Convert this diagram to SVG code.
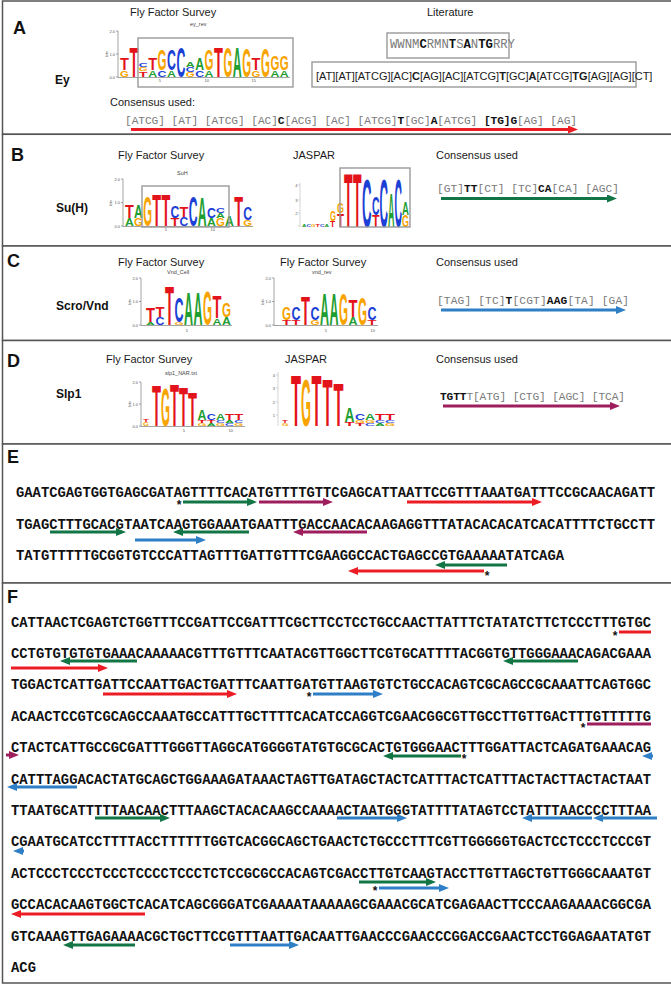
<svg xmlns="http://www.w3.org/2000/svg" width="671" height="984" viewBox="0 0 671 984">
<style>
.pan{fill:#fff;stroke:#555;stroke-width:1.5}
.box{fill:none;stroke:#9a9a9a;stroke-width:1.4}
.h{font:11px 'Liberation Sans',Arial,sans-serif;fill:#1a1a1a}
.lab{font:bold 18px 'Liberation Sans',Arial,sans-serif;fill:#111}
.tf{font:bold 12px 'Liberation Sans',Arial,sans-serif;fill:#111}
.cs{font:11.2px 'Liberation Mono','Courier New',monospace;fill:#7a7a7a}
.cs2{font:12.3px 'Liberation Mono','Courier New',monospace;fill:#7a7a7a}
.b{font-weight:bold;fill:#111}
.ar11{font:11px 'Liberation Sans',Arial,sans-serif;fill:#1a1a1a}
.sq{font:bold 13.85px 'Liberation Mono','Courier New',monospace;fill:#111}
.st{font:bold 12px 'Liberation Sans',Arial,sans-serif;fill:#111;text-anchor:middle}
.tiny{font:5.5px 'Liberation Sans',Arial,sans-serif;fill:#444}
.ax{font:4px 'Liberation Sans',Arial,sans-serif;fill:#555;text-anchor:end}
.axl{stroke:#666;stroke-width:.6;fill:none}
.lg{font:bold 14px 'Liberation Sans',Arial,sans-serif}
.A{fill:#1f9e32}.C{fill:#1c3fd6}.G{fill:#f7a400}.T{fill:#e3131b}
.ar{fill:none;stroke-width:3}
.r{stroke:#ec1c24}.g{stroke:#127545}.bl{stroke:#2e7fc6}.m{stroke:#9e1d5d}
</style>
<defs>
<marker id="mr" viewBox="0 0 10 8" refX="4" refY="4" markerWidth="10" markerHeight="8" markerUnits="userSpaceOnUse" orient="auto"><path d="M0,0L10,4L0,8z" fill="#ec1c24"/></marker>
<marker id="mg" viewBox="0 0 10 8" refX="4" refY="4" markerWidth="10" markerHeight="8" markerUnits="userSpaceOnUse" orient="auto"><path d="M0,0L10,4L0,8z" fill="#127545"/></marker>
<marker id="mb" viewBox="0 0 10 8" refX="4" refY="4" markerWidth="10" markerHeight="8" markerUnits="userSpaceOnUse" orient="auto"><path d="M0,0L10,4L0,8z" fill="#2e7fc6"/></marker>
<marker id="mm" viewBox="0 0 10 8" refX="4" refY="4" markerWidth="10" markerHeight="8" markerUnits="userSpaceOnUse" orient="auto"><path d="M0,0L10,4L0,8z" fill="#9e1d5d"/></marker>
</defs>
<rect width="671" height="984" fill="#fff"/>

<!-- Panel A -->
<g id="panelA">
<rect class="pan" x="2.5" y="1" width="670" height="133.3"/>
<text class="lab" x="13" y="34">A</text>
<text class="h" x="130" y="16">Fly Factor Survey</text>
<text class="tiny" x="190" y="26">ey_rev</text>
<text class="h" x="427" y="16">Literature</text>
<text class="tf" x="55" y="84">Ey</text>
<g id="logoA">
<path class="axl" d="M118,31V77.5H290M116,31H118M116,54H118M116,77H118"/>
<text class="ax" x="115" y="32.5">2.0</text><text class="ax" x="115" y="55.5">1.0</text><text class="ax" x="115" y="78.5">0.0</text>
<text class="ax" transform="translate(108 54) rotate(-90)" style="text-anchor:middle">bits</text>
<text class="ax" x="161" y="82">5</text><text class="ax" x="209" y="82">10</text><text class="ax" x="256" y="82">15</text>
<text class="lg G" transform="translate(120 77) scale(.82 .67)">G</text><text class="lg T" transform="translate(120 70.3) scale(1.04 1.23)">T</text>
<text class="lg T" transform="translate(129.4 77) scale(1.04 3.07)">T</text>
<text class="lg T" transform="translate(138.8 77) scale(1.04 .57)">T</text><text class="lg G" transform="translate(138.8 71.3) scale(.82 .4)">G</text><text class="lg C" transform="translate(138.8 67.3) scale(.88 .43)">C</text>
<text class="lg A" transform="translate(148.2 77) scale(.88 .67)">A</text><text class="lg T" transform="translate(148.2 70.3) scale(1.04 1.23)">T</text>
<text class="lg C" transform="translate(157.6 77) scale(.88 .67)">C</text><text class="lg G" transform="translate(157.6 70.3) scale(.82 2.17)">G</text>
<text class="lg A" transform="translate(167 77) scale(.88 .67)">A</text><text class="lg C" transform="translate(167 70.3) scale(.88 2.07)">C</text>
<text class="lg C" transform="translate(176.4 77) scale(.88 3.07)">C</text>
<text class="lg G" transform="translate(185.8 77) scale(.82 .5)">G</text><text class="lg C" transform="translate(185.8 72) scale(.88 .5)">C</text><text class="lg A" transform="translate(185.8 67) scale(.88 .5)">A</text>
<text class="lg C" transform="translate(195.2 77) scale(.88 .67)">C</text><text class="lg A" transform="translate(195.2 70.3) scale(.88 1.23)">A</text>
<text class="lg A" transform="translate(204.6 77) scale(.88 .67)">A</text><text class="lg G" transform="translate(204.6 70.3) scale(.82 2.07)">G</text>
<text class="lg T" transform="translate(214 77) scale(1.04 3.07)">T</text>
<text class="lg G" transform="translate(223.4 77) scale(.82 3)">G</text>
<text class="lg A" transform="translate(232.8 77) scale(.88 3)">A</text>
<text class="lg G" transform="translate(242.2 77) scale(.82 2.9)">G</text>
<text class="lg G" transform="translate(251.6 77) scale(.82 .67)">G</text><text class="lg T" transform="translate(251.6 70.3) scale(1.04 1.23)">T</text>
<text class="lg G" transform="translate(261 77) scale(.82 2.9)">G</text>
<text class="lg A" transform="translate(270.4 77) scale(.88 .67)">A</text><text class="lg G" transform="translate(270.4 70.3) scale(.82 1.4)">G</text>
<text class="lg A" transform="translate(279.8 77) scale(.88 .67)">A</text><text class="lg G" transform="translate(279.8 70.3) scale(.82 1.4)">G</text>
<rect class="box" x="138" y="38" width="155" height="49"/>
</g>
<rect class="box" x="387" y="33" width="122" height="25"/>
<text class="cs2" x="390" y="48" textLength="125">WWNM<tspan class="b">C</tspan>RMN<tspan class="b">T</tspan>S<tspan class="b">A</tspan>N<tspan class="b">TG</tspan>RRY</text>
<rect class="box" x="312" y="62" width="324" height="25"/>
<text class="ar11" x="316" y="80">[AT][AT][ATCG][AC]<tspan font-weight="bold">C</tspan>[AG][AC][ATCG]<tspan font-weight="bold">T</tspan>[GC]<tspan font-weight="bold">A</tspan>[ATCG]<tspan font-weight="bold">TG</tspan>[AG][AG][CT]</text>
<text class="h" x="110" y="106">Consensus used:</text>
<text class="cs" x="125" y="124" textLength="452">[ATCG] [AT] [ATCG] [AC]<tspan class="b">C</tspan>[ACG] [AC] [ATCG]<tspan class="b">T</tspan>[GC]<tspan class="b">A</tspan>[ATCG] <tspan class="b">[TG]G</tspan>[AG] [AG]</text>
</g>

<!-- Panel B -->
<g id="panelB">
<rect class="pan" x="2.5" y="134.3" width="670" height="111.7"/>
<text class="lab" x="11" y="161">B</text>
<text class="h" x="118" y="159">Fly Factor Survey</text>
<text class="h" x="293" y="159">JASPAR</text>
<text class="h" x="436" y="159">Consensus used</text>
<text class="tiny" x="177" y="175">SuH</text>
<text class="tf" x="56" y="212">Su(H)</text>
<g id="logoB1">
<path class="axl" d="M123,179V226.5H253M121,179H123M121,202.5H123M121,226H123"/>
<text class="ax" x="120" y="180.5">2.0</text><text class="ax" x="120" y="204">1.0</text><text class="ax" x="120" y="227.5">0.0</text>
<text class="ax" transform="translate(112 203) rotate(-90)" style="text-anchor:middle">bits</text>
<text class="ax" x="167" y="231">5</text><text class="ax" x="215" y="231">10</text>
<text class="lg A" transform="translate(125 226) scale(.87 .77)">A</text><text class="lg T" transform="translate(125 218.3) scale(1.03 1.33)">T</text>
<text class="lg G" transform="translate(134.1 226) scale(.81 .77)">G</text><text class="lg A" transform="translate(134.1 218.3) scale(.87 1.33)">A</text>
<text class="lg G" transform="translate(143.2 226) scale(.81 3.1)">G</text>
<text class="lg T" transform="translate(152.3 226) scale(1.03 3.17)">T</text>
<text class="lg T" transform="translate(161.4 226) scale(1.03 3.17)">T</text>
<text class="lg T" transform="translate(170.5 226) scale(1.03 .77)">T</text><text class="lg C" transform="translate(170.5 218.3) scale(.87 1.17)">C</text>
<text class="lg C" transform="translate(179.6 226) scale(.87 .93)">C</text><text class="lg T" transform="translate(179.6 216.7) scale(1.03 1)">T</text>
<text class="lg C" transform="translate(188.7 226) scale(.87 3)">C</text>
<text class="lg A" transform="translate(197.8 226) scale(.87 2.93)">A</text>
<text class="lg A" transform="translate(206.9 226) scale(.87 .77)">A</text><text class="lg C" transform="translate(206.9 218.3) scale(.87 1)">C</text>
<text class="lg G" transform="translate(216 226) scale(.81 .77)">G</text><text class="lg A" transform="translate(216 218.3) scale(.87 .5)">A</text><text class="lg C" transform="translate(216 213.3) scale(.87 .5)">C</text>
<text class="lg A" transform="translate(225.1 226) scale(.87 1.1)">A</text>
<text class="lg T" transform="translate(234.2 226) scale(1.03 3.03)">T</text>
<text class="lg G" transform="translate(243.3 226) scale(.81 .6)">G</text><text class="lg C" transform="translate(243.3 220) scale(.87 1.33)">C</text>
<rect class="box" x="142" y="186" width="87" height="41"/>
</g>
<g id="logoB2">
<path class="axl" d="M300,183V227M298,185H300M298,200H300M298,213H300M298,226H300" style="stroke:#bbb"/>
<text class="ax" x="297.5" y="186.5">4</text><text class="ax" x="297.5" y="201.5">3</text><text class="ax" x="297.5" y="214.5">2</text>
<text class="lg A" transform="translate(302 226.5) scale(.45 .3)">A</text><text class="lg C" transform="translate(306.5 226.5) scale(.45 .2)">C</text><text class="lg G" transform="translate(311 226.5) scale(.41 .2)">G</text><text class="lg T" transform="translate(315.5 226.5) scale(.53 .2)">T</text><text class="lg C" transform="translate(320 226.5) scale(.45 .2)">C</text><text class="lg A" transform="translate(324.5 226.5) scale(.45 .25)">A</text>
<text class="lg T" transform="translate(330 226.5) scale(.6 .6)">T</text><text class="lg G" transform="translate(330 220.5) scale(.55 1)">G</text>
<text class="lg T" transform="translate(337 226.5) scale(.82 1.35)">T</text><text class="lg G" transform="translate(337 213) scale(.64 1)">G</text>
<text class="lg T" transform="translate(344 226.5) scale(1 5.45)">T</text>
<text class="lg T" transform="translate(353 226.5) scale(1 5.45)">T</text>
<text class="lg C" transform="translate(362 226.5) scale(.94 4.85)">C</text>
<text class="lg T" transform="translate(372 226.5) scale(.88 1.15)">T</text><text class="lg C" transform="translate(372 215) scale(.74 1.8)">C</text>
<text class="lg C" transform="translate(379.5 226.5) scale(.84 4.85)">C</text>
<text class="lg A" transform="translate(388 226.5) scale(.64 3.5)">A</text>
<text class="lg C" transform="translate(394.5 226.5) scale(.74 4.85)">C</text>
<text class="lg G" transform="translate(402 226.5) scale(.64 1.15)">G</text><text class="lg A" transform="translate(402 215) scale(.69 1.3)">A</text>
<rect class="box" x="340" y="168" width="70" height="59"/>
</g>
<text class="cs" x="437" y="192" textLength="182">[GT]<tspan class="b">TT</tspan>[CT] [TC]<tspan class="b">CA</tspan>[CA] [AGC]</text>
</g>

<!-- Panel C -->
<g id="panelC">
<rect class="pan" x="2.5" y="246" width="670" height="94.5"/>
<text class="lab" x="7" y="267">C</text>
<text class="h" x="118" y="266">Fly Factor Survey</text>
<text class="h" x="280" y="266">Fly Factor Survey</text>
<text class="h" x="436" y="266">Consensus used</text>
<text class="tiny" x="167" y="274">Vnd_Cell</text>
<text class="tiny" x="312" y="274">vnd_rev</text>
<text class="tf" x="56" y="310">Scro/Vnd</text>
<g id="logoC1">
<path class="axl" d="M141,278V325.5H232M139,278H141M139,301.5H141M139,325H141"/>
<text class="ax" x="138" y="279.5">2.0</text><text class="ax" x="138" y="303">1.0</text><text class="ax" x="138" y="326.5">0.0</text>
<text class="ax" transform="translate(131 302) rotate(-90)" style="text-anchor:middle">bits</text>
<text class="ax" x="188" y="332">5</text>
<text class="lg A" transform="translate(146 325) scale(.89 .3)">A</text><text class="lg T" transform="translate(146 322) scale(1.05 1.5)">T</text>
<text class="lg C" transform="translate(155.5 325) scale(.89 .8)">C</text><text class="lg T" transform="translate(155.5 317) scale(1.05 1)">T</text>
<text class="lg T" transform="translate(165 325) scale(1.05 4)">T</text>
<text class="lg G" transform="translate(174.5 325) scale(.83 .3)">G</text><text class="lg C" transform="translate(174.5 322) scale(.89 2.5)">C</text>
<text class="lg A" transform="translate(184 325) scale(.89 3.3)">A</text>
<text class="lg A" transform="translate(193.5 325) scale(.89 3.3)">A</text>
<text class="lg G" transform="translate(203 325) scale(.83 3.5)">G</text>
<text class="lg A" transform="translate(212.5 325) scale(.89 .7)">A</text><text class="lg T" transform="translate(212.5 318) scale(1.05 2.3)">T</text>
<text class="lg A" transform="translate(222 325) scale(.89 .8)">A</text><text class="lg G" transform="translate(222 317) scale(.83 1.4)">G</text>
</g>
<g id="logoC2">
<path class="axl" d="M274,278V325.5H378M272,278H274M272,301.5H274M272,325H274"/>
<text class="ax" x="271" y="279.5">2.0</text><text class="ax" x="271" y="303">1.0</text><text class="ax" x="271" y="326.5">0.0</text>
<text class="ax" transform="translate(264 302) rotate(-90)" style="text-anchor:middle">bits</text>
<text class="ax" x="327" y="332">5</text><text class="ax" x="375" y="332">10</text>
<text class="lg T" transform="translate(282 325) scale(1.05 .5)">T</text><text class="lg G" transform="translate(282 320) scale(.83 1.3)">G</text>
<text class="lg T" transform="translate(291.5 325) scale(1.05 .5)">T</text><text class="lg C" transform="translate(291.5 320) scale(.89 1.3)">C</text>
<text class="lg T" transform="translate(301 325) scale(1.05 2.9)">T</text>
<text class="lg G" transform="translate(310.5 325) scale(.83 .5)">G</text><text class="lg C" transform="translate(310.5 320) scale(.89 1.3)">C</text>
<text class="lg A" transform="translate(320 325) scale(.89 3.2)">A</text>
<text class="lg A" transform="translate(329.5 325) scale(.89 3.2)">A</text>
<text class="lg G" transform="translate(339 325) scale(.83 3.2)">G</text>
<text class="lg A" transform="translate(348.5 325) scale(.89 .8)">A</text><text class="lg T" transform="translate(348.5 317) scale(1.05 1.7)">T</text>
<text class="lg G" transform="translate(358 325) scale(.83 2.8)">G</text>
<text class="lg T" transform="translate(367.5 325) scale(1.05 .5)">T</text><text class="lg C" transform="translate(367.5 320) scale(.89 1.3)">C</text>
</g>
<text class="cs" x="437" y="304" textLength="192">[TAG] [TC]<tspan class="b">T</tspan>[CGT]<tspan class="b">AAG</tspan>[TA] [GA]</text>
</g>

<!-- Panel D -->
<g id="panelD">
<rect class="pan" x="2.5" y="340.5" width="670" height="103.5"/>
<text class="lab" x="7" y="367">D</text>
<text class="h" x="106" y="363">Fly Factor Survey</text>
<text class="h" x="285" y="363">JASPAR</text>
<text class="h" x="436" y="363">Consensus used</text>
<text class="tiny" x="165" y="375">slp1_NAR.txt</text>
<text class="tf" x="56" y="398">Slp1</text>
<g id="logoD1">
<path class="axl" d="M141,382V426.5H245M139,382H141M139,404H141M139,426H141"/>
<text class="ax" x="138" y="383.5">2.0</text><text class="ax" x="138" y="405.5">1.0</text><text class="ax" x="138" y="427.5">0.0</text>
<text class="ax" transform="translate(131 404) rotate(-90)" style="text-anchor:middle">bits</text>
<text class="ax" x="185" y="432">5</text><text class="ax" x="233" y="432">10</text>
<text class="lg G" transform="translate(143 426) scale(.55 .4)">G</text><text class="lg T" transform="translate(143 422) scale(.7 .2)">T</text>
<text class="lg T" transform="translate(152 426) scale(1.05 4.1)">T</text>
<text class="lg G" transform="translate(161 426) scale(.83 3.8)">G</text>
<text class="lg T" transform="translate(170 426) scale(1.05 4.2)">T</text>
<text class="lg T" transform="translate(179 426) scale(1.05 3.9)">T</text>
<text class="lg T" transform="translate(188 426) scale(1.05 3.5)">T</text>
<text class="lg G" transform="translate(197.5 426) scale(.83 .3)">G</text><text class="lg T" transform="translate(197.5 423) scale(1.05 .3)">T</text><text class="lg A" transform="translate(197.5 420) scale(.89 1)">A</text>
<text class="lg A" transform="translate(206.7 426) scale(.89 .3)">A</text><text class="lg T" transform="translate(206.7 423) scale(1.05 .3)">T</text><text class="lg C" transform="translate(206.7 420) scale(.89 .6)">C</text>
<text class="lg G" transform="translate(215.9 426) scale(.83 .3)">G</text><text class="lg C" transform="translate(215.9 423) scale(.89 .3)">C</text><text class="lg A" transform="translate(215.9 420) scale(.89 .6)">A</text>
<text class="lg C" transform="translate(225.1 426) scale(.89 .3)">C</text><text class="lg A" transform="translate(225.1 423) scale(.89 .3)">A</text><text class="lg T" transform="translate(225.1 420) scale(1.05 .7)">T</text>
<text class="lg G" transform="translate(234.3 426) scale(.83 .3)">G</text><text class="lg C" transform="translate(234.3 423) scale(.89 .3)">C</text><text class="lg T" transform="translate(234.3 420) scale(1.05 .7)">T</text>
</g>
<g id="logoD2">
<path class="axl" d="M278,372V426M276,375H278M276,388H278M276,402H278M276,415H278" style="stroke:#bbb"/>
<text class="ax" x="275" y="376.5">4</text><text class="ax" x="275" y="389.5">3</text><text class="ax" x="275" y="403.5">2</text><text class="ax" x="275" y="416.5">1</text>
<text class="lg G" transform="translate(282 426) scale(.6 .3)">G</text><text class="lg T" transform="translate(282 423) scale(.7 .3)">T</text>
<text class="lg T" transform="translate(291 426) scale(1.17 5.1)">T</text>
<text class="lg G" transform="translate(301 426) scale(.92 4.8)">G</text>
<text class="lg T" transform="translate(311.5 426) scale(1.17 5.1)">T</text>
<text class="lg T" transform="translate(322.5 426) scale(1.17 4.7)">T</text>
<text class="lg T" transform="translate(333.5 426) scale(1.17 4.4)">T</text>
<text class="lg T" transform="translate(344.5 426) scale(1.17 .4)">T</text><text class="lg A" transform="translate(344.5 422) scale(.99 1.4)">A</text>
<text class="lg T" transform="translate(355 426) scale(1.17 .3)">T</text><text class="lg G" transform="translate(355 423) scale(.92 .3)">G</text><text class="lg C" transform="translate(355 420) scale(.99 .6)">C</text>
<text class="lg C" transform="translate(365 426) scale(.99 .3)">C</text><text class="lg G" transform="translate(365 423) scale(.92 .3)">G</text><text class="lg A" transform="translate(365 420) scale(.99 .6)">A</text>
<text class="lg A" transform="translate(375 426) scale(.99 .3)">A</text><text class="lg C" transform="translate(375 423) scale(.99 .3)">C</text><text class="lg T" transform="translate(375 420) scale(1.17 .7)">T</text>
<text class="lg G" transform="translate(385 426) scale(.92 .3)">G</text><text class="lg C" transform="translate(385 423) scale(.99 .3)">C</text><text class="lg T" transform="translate(385 420) scale(1.17 .7)">T</text>
</g>
<text class="cs" x="440" y="400" textLength="185"><tspan class="b">TGTT</tspan>T[ATG] [CTG] [AGC] [TCA]</text>
</g>

<!-- Panel E -->
<g id="panelE">
<rect class="pan" x="2.5" y="444" width="670" height="139"/>
<text class="lab" x="7" y="463">E</text>
<text class="sq" x="16" y="497" textLength="639" lengthAdjust="spacing">GAATCGAGTGGTGAGCGATAGTTTTCACATGTTTTGTTCGAGCATTAATTCCGTTTAAATGATTTCCGCAACAGATT</text>
<text class="sq" x="16" y="528.5" textLength="639" lengthAdjust="spacing">TGAGCTTTGCACGTAATCAAGTGGAAATGAATTTGACCAACACAAGAGGTTTATACACACATCACATTTTCTGCCTT</text>
<text class="sq" x="16" y="560" textLength="548" lengthAdjust="spacing">TATGTTTTTGCGGTGTCCCATTAGTTTGATTGTTTCGAAGGCCACTGAGCCGTGAAAAATATCAGA</text>
<text class="st" x="179" y="509">*</text>
<text class="st" x="487" y="580">*</text>
</g>

<!-- Panel F -->
<g id="panelF">
<rect class="pan" x="2.5" y="583" width="670" height="400"/>
<text class="lab" x="7" y="603">F</text>
<text class="sq" x="11" y="626.5" textLength="640" lengthAdjust="spacing">CATTAACTCGAGTCTGGTTTCCGATTCCGATTTCGCTTCCTCCTGCCAACTTATTTCTATATCTTCTCCCTTTGTGC</text>
<text class="sq" x="11" y="657.9" textLength="640" lengthAdjust="spacing">CCTGTGTGTGTGAAACAAAAACGTTTGTTTCAATACGTTGGCTTCGTGCATTTTACGGTGTTGGGAAACAGACGAAA</text>
<text class="sq" x="11" y="689.3" textLength="640" lengthAdjust="spacing">TGGACTCATTGATTCCAATTGACTGATTTCAATTGATGTTAAGTGTCTGCCACAGTCGCAGCCGCAAATTCAGTGGC</text>
<text class="sq" x="11" y="720.7" textLength="640" lengthAdjust="spacing">ACAACTCCGTCGCAGCCAAATGCCATTTGCTTTTCACATCCAGGTCGAACGGCGTTGCCTTGTTGACTTTGTTTTTG</text>
<text class="sq" x="11" y="752.1" textLength="640" lengthAdjust="spacing">CTACTCATTGCCGCGATTTGGGTTAGGCATGGGGTATGTGCGCACTGTGGGAACTTTGGATTACTCAGATGAAACAG</text>
<text class="sq" x="11" y="783.5" textLength="640" lengthAdjust="spacing">CATTTAGGACACTATGCAGCTGGAAAGATAAACTAGTTGATAGCTACTCATTTACTCATTTACTACTTACTACTAAT</text>
<text class="sq" x="11" y="814.9" textLength="640" lengthAdjust="spacing">TTAATGCATTTTTAACAACTTTAAGCTACACAAGCCAAAACTAATGGGTATTTTATAGTCCTATTTAACCCCTTTAA</text>
<text class="sq" x="11" y="846.3" textLength="640" lengthAdjust="spacing">CGAATGCATCCTTTTACCTTTTTTGGTCACGGCAGCTGAACTCTGCCCTTTCGTTGGGGGTGACTCCTCCCTCCCGT</text>
<text class="sq" x="11" y="877.7" textLength="640" lengthAdjust="spacing">ACTCCCTCCCTCCCTCCCCTCCCTCTCCGCGCCACAGTCGACCTTGTCAAGTACCTTGTTAGCTGTTGGGCAAATGT</text>
<text class="sq" x="11" y="909.1" textLength="640" lengthAdjust="spacing">GCCACACAAGTGGCTCACATCAGCGGGATCGAAAATAAAAAGCGAAACGCATCGAGAACTTCCCAAGAAAACGGCGA</text>
<text class="sq" x="11" y="940.5" textLength="640" lengthAdjust="spacing">GTCAAAGTTGAGAAAACGCTGCTTCCGTTTAATTGACAATTGAACCCGAACCCGGACCGAACTCCTGGAGAATATGT</text>
<text class="sq" x="11" y="971.9" textLength="25" lengthAdjust="spacing">ACG</text>
<text class="st" x="615" y="640">*</text>
<text class="st" x="309" y="701">*</text>
<text class="st" x="583" y="732">*</text>
<text class="st" x="464" y="763">*</text>
<text class="st" x="375" y="895">*</text>
</g>

<!-- Connectors (site arrows) -->
<g id="connectors">
<line class="ar r" x1="131" y1="129.5" x2="572" y2="129.5" marker-end="url(#mr)"/>
<line class="ar g" x1="441" y1="198.5" x2="611" y2="198.5" marker-end="url(#mg)"/>
<line class="ar bl" x1="441" y1="310" x2="620" y2="310" marker-end="url(#mb)"/>
<line class="ar m" x1="443" y1="406" x2="614" y2="406" marker-end="url(#mm)"/>

<line class="ar g" x1="183" y1="502" x2="251" y2="502" marker-end="url(#mg)"/>
<line class="ar m" x1="259" y1="502" x2="327" y2="502" marker-end="url(#mm)"/>
<line class="ar r" x1="407" y1="502" x2="536" y2="502" marker-end="url(#mr)"/>
<line class="ar g" x1="50" y1="532" x2="120" y2="532" marker-end="url(#mg)"/>
<line class="ar g" x1="249" y1="532" x2="179" y2="532" marker-end="url(#mg)"/>
<line class="ar m" x1="367" y1="532" x2="299" y2="532" marker-end="url(#mm)"/>
<line class="ar bl" x1="135" y1="540" x2="200" y2="540" marker-end="url(#mb)"/>
<line class="ar g" x1="507" y1="565" x2="441" y2="565" marker-end="url(#mg)"/>
<line class="ar r" x1="484" y1="571" x2="354" y2="571" marker-end="url(#mr)"/>

<line class="ar r" x1="619" y1="632" x2="651" y2="632"/>
<line class="ar r" x1="11" y1="668" x2="102" y2="668" marker-end="url(#mr)"/>
<line class="ar g" x1="137" y1="661" x2="66" y2="661" marker-end="url(#mg)"/>
<line class="ar g" x1="578" y1="661" x2="509" y2="661" marker-end="url(#mg)"/>
<line class="ar r" x1="103" y1="694" x2="231" y2="694" marker-end="url(#mr)"/>
<line class="ar bl" x1="313" y1="694" x2="377" y2="694" marker-end="url(#mb)"/>
<line class="ar m" x1="587" y1="724" x2="651" y2="724"/>
<line class="ar m" x1="6" y1="755" x2="13" y2="755" marker-end="url(#mm)"/>
<line class="ar g" x1="461" y1="756" x2="389" y2="756" marker-end="url(#mg)"/>
<line class="ar bl" x1="653" y1="756" x2="648" y2="756" marker-end="url(#mb)"/>
<line class="ar bl" x1="77" y1="787" x2="13" y2="787" marker-end="url(#mb)"/>
<line class="ar g" x1="95" y1="818" x2="164" y2="818" marker-end="url(#mg)"/>
<line class="ar bl" x1="337" y1="818" x2="401" y2="818" marker-end="url(#mb)"/>
<line class="ar bl" x1="592" y1="818" x2="528" y2="818" marker-end="url(#mb)"/>
<line class="ar bl" x1="657" y1="818" x2="599" y2="818" marker-end="url(#mb)"/>
<line class="ar bl" x1="24" y1="851" x2="19" y2="851" marker-end="url(#mb)"/>
<line class="ar g" x1="359" y1="882" x2="430" y2="882" marker-end="url(#mg)"/>
<line class="ar bl" x1="379" y1="888" x2="443" y2="888" marker-end="url(#mb)"/>
<line class="ar r" x1="145" y1="914" x2="17" y2="914" marker-end="url(#mr)"/>
<line class="ar g" x1="135" y1="945" x2="69" y2="945" marker-end="url(#mg)"/>
<line class="ar bl" x1="230" y1="945" x2="293" y2="945" marker-end="url(#mb)"/>
</g>
</svg>
